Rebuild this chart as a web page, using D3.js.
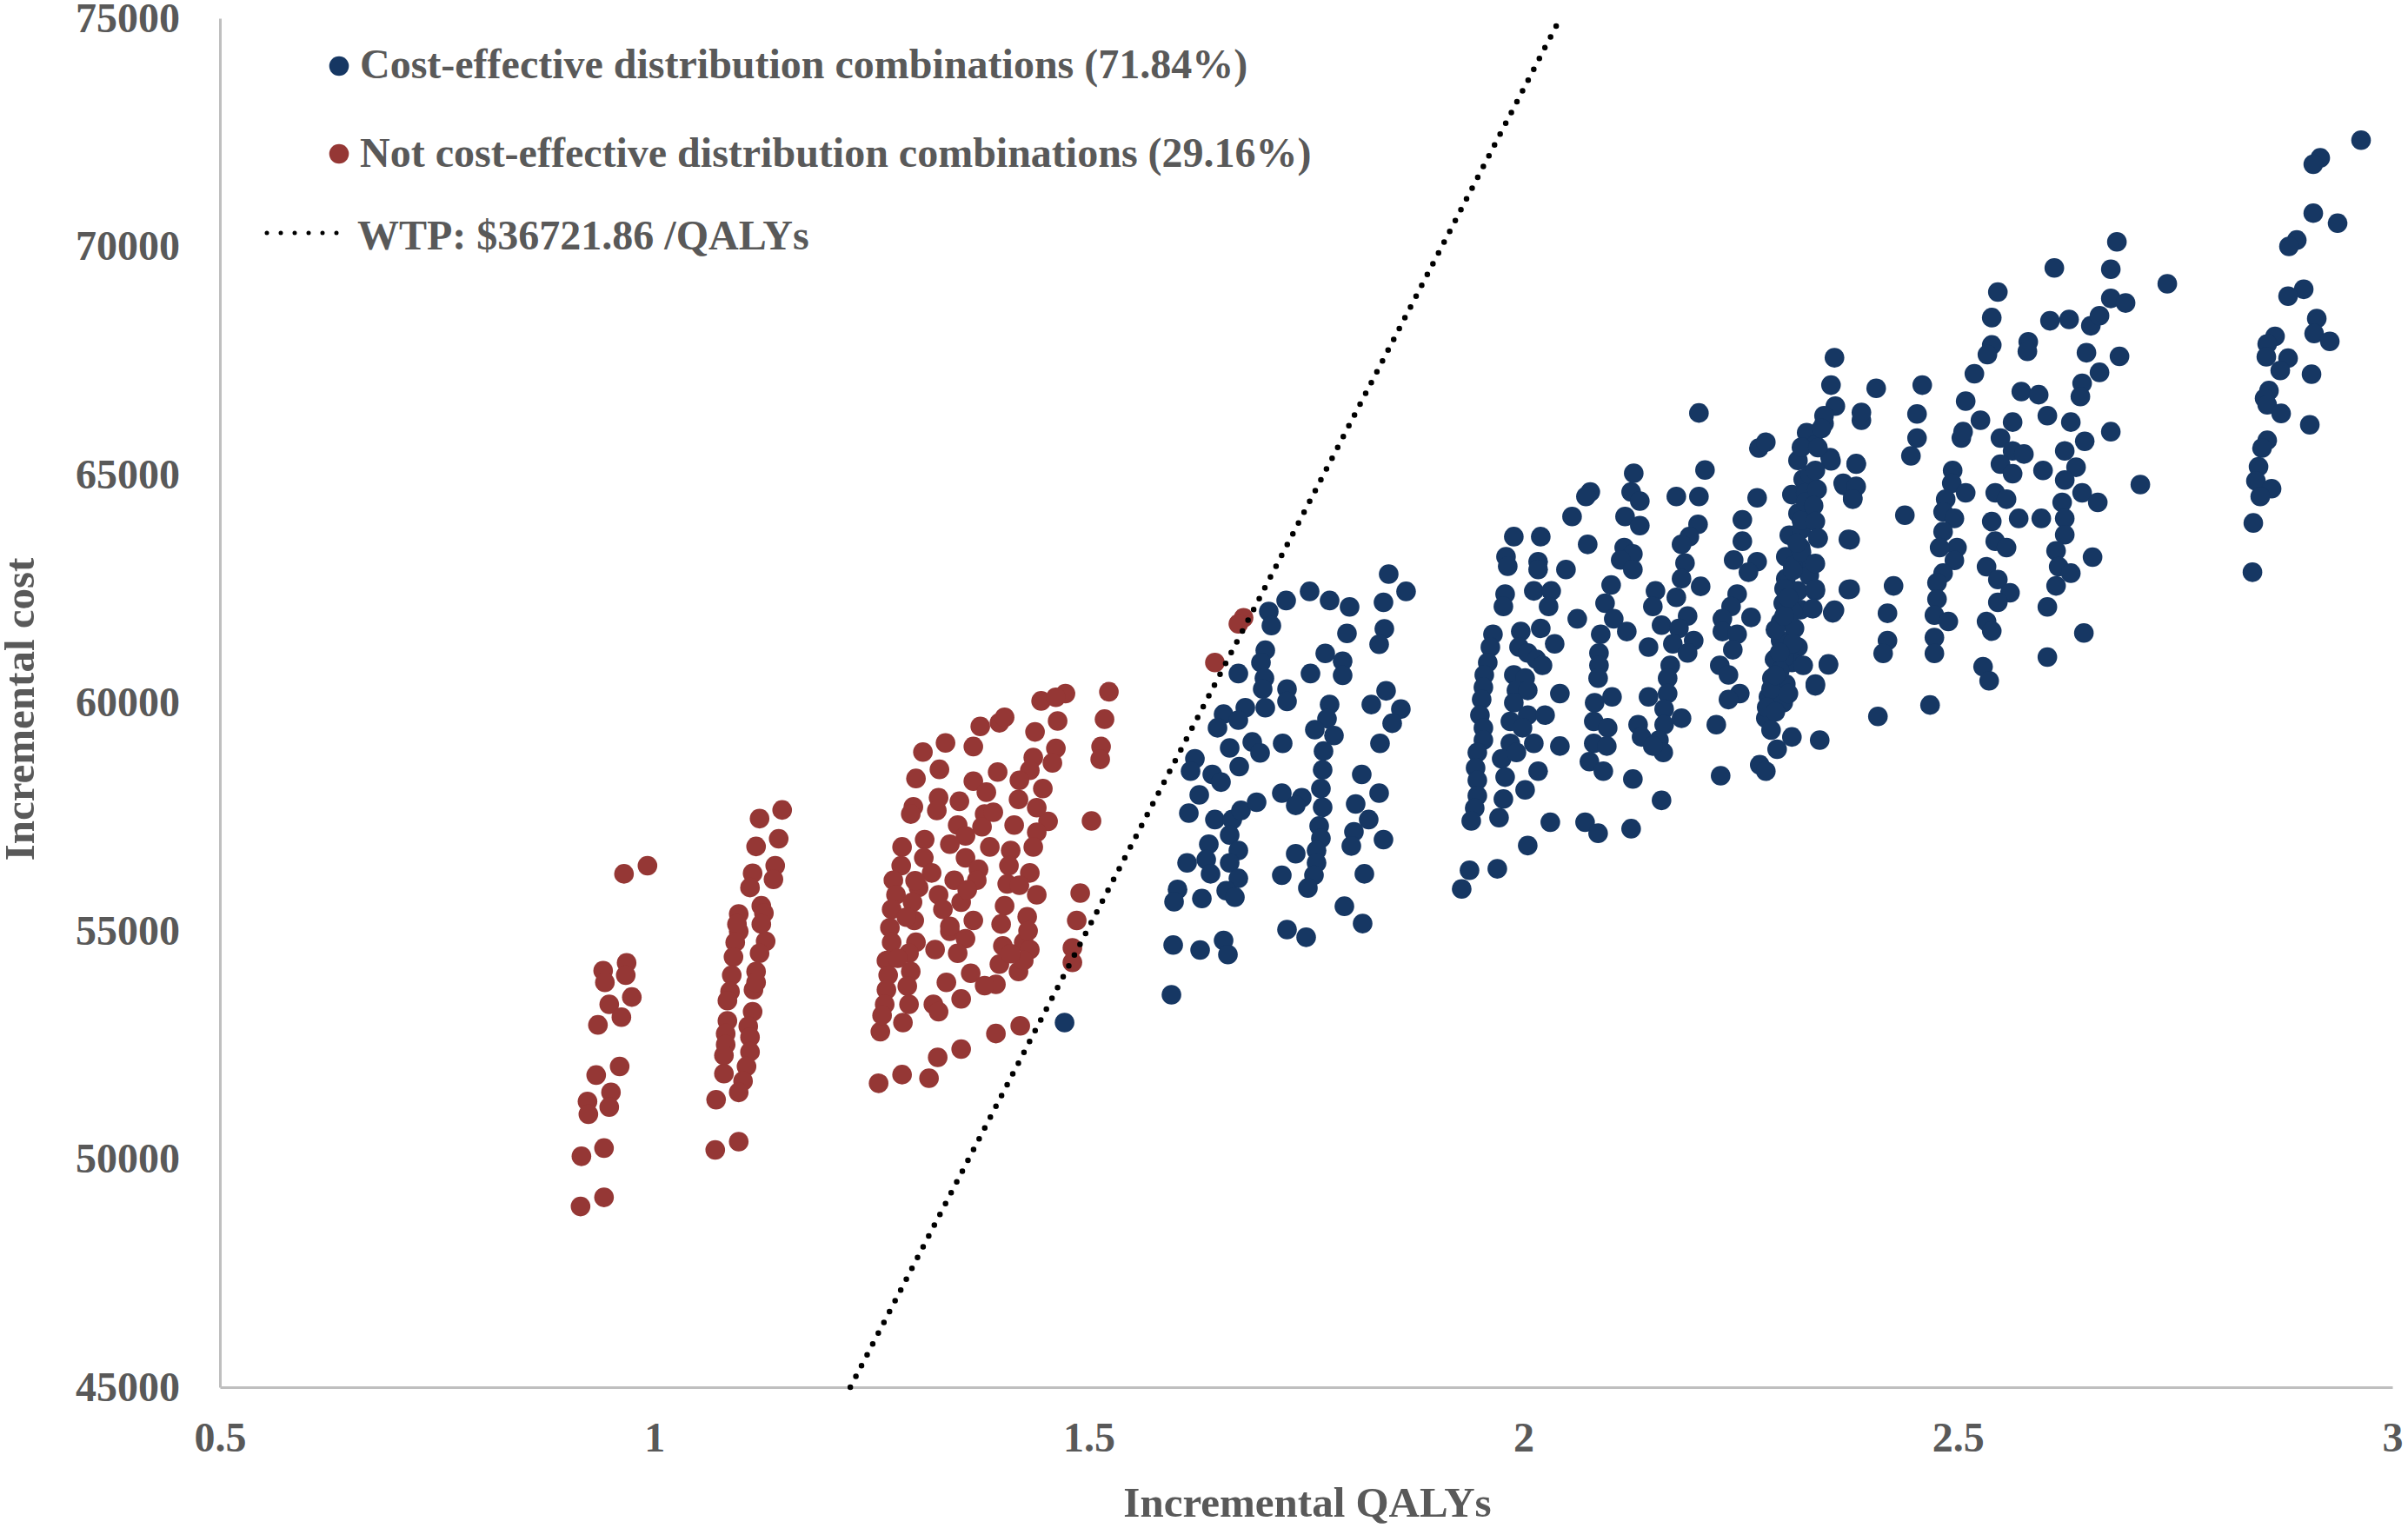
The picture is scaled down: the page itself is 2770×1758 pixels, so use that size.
<!DOCTYPE html>
<html>
<head>
<meta charset="utf-8">
<script src="https://cdn.jsdelivr.net/npm/d3@7"></script>
<style>
html, body { margin: 0; padding: 0; background: #fff; }
svg text { font-family: "Liberation Serif", "Times New Roman", serif; font-weight: bold; fill: #595959; }
</style>
</head>
<body>
<svg id="chart" width="2770" height="1758"></svg>
<script>
// axis ticks and labels
var xTicks = [0.5, 1, 1.5, 2, 2.5, 3];
var yTicks = [45000, 50000, 55000, 60000, 65000, 70000, 75000];
var xTitle = 'Incremental QALYs';
var yTitle = 'Incremental cost';

// willingness to pay threshold ($ per QALY)
var wtp = 36721.86;

var legendLabels = [
	'Cost-effective distribution combinations (71.84%)',
	'Not cost-effective distribution combinations (29.16%)',
	'WTP: $36721.86 /QALYs'
];

// [incremental QALYs, incremental cost]
var notCostEffective = [
	[0.965,56250],[0.992,56430],[0.941,54130],[0.968,54300],[0.943,53870],[0.967,54030],[0.974,53550],[0.948,53390],
	[0.962,53110],[0.935,52940],[0.960,52030],[0.933,51840],[0.950,51460],[0.923,51260],[0.948,51140],[0.924,50980],
	[0.942,50240],[0.916,50060],[0.942,49160],[0.915,48960],
	[1.147,57650],[1.121,57460],[1.143,57020],[1.117,56850],[1.139,56430],[1.113,56260],[1.137,56130],[1.110,55950],
	[1.123,55550],[1.097,55370],[1.097,54990],[1.126,55390],[1.128,54770],[1.095,55150],[1.093,54750],[1.123,55150],
	[1.121,54510],[1.091,54430],[1.117,54110],[1.089,54030],[1.114,53710],[1.087,53670],[1.084,53470],[1.117,53870],
	[1.113,53230],[1.084,53030],[1.108,52910],[1.082,52750],[1.082,52510],[1.110,52670],[1.110,52350],[1.080,52270],
	[1.106,52030],[1.080,51870],[1.102,51710],[1.071,51300],[1.097,51460],[1.097,50380],[1.070,50200],
	[1.309,58920],[1.335,59120],[1.301,58340],[1.328,58540],[1.298,57720],[1.327,57920],[1.295,57560],[1.325,57640],
	[1.285,56840],[1.311,57000],[1.284,56430],[1.310,56600],[1.275,56110],[1.319,56270],[1.278,55790],[1.304,55950],
	[1.273,55470],[1.297,55630],[1.271,55070],[1.299,55230],[1.273,54750],[1.301,54750],[1.267,54350],[1.293,54510],
	[1.269,54030],[1.295,54110],[1.267,53710],[1.291,53790],[1.265,53390],[1.293,53390],[1.260,52790],[1.286,52990],
	[1.262,53150],
	[1.258,51660],[1.285,51850],[1.316,51770],[1.326,52230],[1.353,52410],[1.393,52750],[1.421,52920],
	[1.367,59040],[1.375,59480],[1.397,59560],[1.403,59680],[1.395,58480],[1.367,58280],[1.382,58040],[1.351,57840],
	[1.380,57560],[1.349,57320],[1.377,57280],[1.358,57080],[1.386,56840],[1.358,56600],[1.373,56350],[1.345,56110],
	[1.371,56110],[1.327,55790],[1.353,55630],[1.332,55470],[1.367,55230],[1.340,54990],[1.358,54830],[1.323,54590],
	[1.349,54510],[1.364,54070],[1.336,53870],[1.353,53510],[1.321,53390],[1.327,53230],
	[1.445,60040],[1.473,60200],[1.462,60120],[1.438,59360],[1.464,59600],[1.436,58800],[1.462,59000],[1.432,58520],
	[1.458,58680],[1.447,58120],[1.419,57880],[1.453,57400],[1.414,57320],[1.440,57160],[1.410,56760],[1.436,56840],
	[1.408,56430],[1.432,56270],[1.406,56030],[1.440,55790],[1.403,55550],[1.429,55310],[1.399,55150],[1.425,54750],
	[1.401,54670],[1.432,54590],[1.397,54270],[1.419,54110],[1.393,53830],[1.425,54350],
	[1.300,56100],[1.290,55300],[1.280,54400],[1.340,56900],[1.360,55900],[1.340,55100],[1.390,57600],[1.420,58300],
	[1.440,57700],[1.420,56000],[1.430,55000],[1.410,54500],[1.380,53800],
	[1.523,60240],[1.518,59640],[1.514,59040],[1.513,58760],[1.503,57410],[1.490,55830],[1.486,55230],[1.481,54630],
	[1.481,54310],
	[1.678,61860],[1.672,61730],[1.645,60880]
];

var costEffective = [
	[1.472,52990],
	// around 1.6 - 1.87
	[1.707,62000],[1.710,61690],[1.727,62240],[1.703,61150],[1.698,60880],[1.702,60540],[1.700,60300],[1.672,60640],
	[1.703,59890],[1.680,59890],[1.655,59750],[1.648,59450],[1.672,59620],[1.688,59140],[1.662,59010],[1.697,58900],
	[1.673,58600],[1.622,58770],[1.617,58500],[1.642,58430],[1.652,58260],[1.627,57980],[1.615,57580],[1.645,57440],
	[1.665,57440],[1.675,57640],[1.693,57820],[1.638,56900],[1.662,57100],[1.672,56760],[1.635,56560],[1.662,56490],
	[1.640,56250],[1.672,56150],[1.658,55880],[1.668,55740],[1.613,56490],[1.602,55910],[1.598,55640],[1.630,55710],
	[1.597,54690],[1.628,54580],[1.655,54790],[1.660,54480],[1.595,53600],
	[1.754,62440],[1.777,62240],[1.800,62100],[1.797,61520],[1.772,61080],[1.792,60910],[1.792,60600],[1.755,60640],
	[1.728,60300],[1.728,60030],[1.723,59110],[1.777,59960],[1.774,59650],[1.760,59410],[1.782,59280],[1.770,58940],
	[1.769,58530],[1.767,58120],[1.722,58020],[1.745,57920],[1.738,57750],[1.769,57710],[1.765,57300],[1.767,57030],
	[1.762,56760],[1.738,56690],[1.762,56490],[1.759,56220],[1.752,55940],[1.722,56220],[1.728,55030],[1.750,54860],
	[1.794,55540],[1.815,55160],[1.817,56250],
	[1.845,62820],[1.865,62440],[1.839,62200],[1.840,61620],[1.834,61280],[1.842,60260],[1.825,59960],[1.859,59860],
	[1.849,59550],[1.835,59110],[1.814,58430],[1.834,58020],[1.807,57780],[1.822,57440],[1.805,57170],[1.802,56860],
	[1.839,57000],
	// around 1.93 - 2.39
	[1.989,63640],[1.980,63200],[1.982,62990],[2.020,63640],[2.017,63090],[2.017,62920],[2.049,62920],[2.056,64080],
	[2.077,64620],[2.072,64520],[2.074,63470],
	[1.965,61500],[1.962,61220],[1.959,60880],[1.955,60610],[1.954,60340],[1.952,60070],[1.950,59730],[1.954,59450],
	[1.954,59180],[1.947,58910],[1.945,58570],[1.947,58300],[1.947,57960],[1.944,57690],[1.940,57410],
	[1.979,62380],[1.977,62110],[2.012,62450],[2.032,62450],[2.029,62110],[2.020,61630],[2.036,61290],[1.997,61560],
	[1.995,61220],[2.005,61090],[2.015,60950],[2.022,60820],[1.989,60610],[2.002,60540],[1.992,60270],[2.005,60270],
	[1.989,60000],[2.005,59730],[2.025,59730],[1.985,59590],[1.999,59450],[1.985,59110],[2.012,59110],[1.975,58770],
	[1.992,58910],[2.017,58500],[1.979,58370],[2.002,58090],[1.977,57890],[1.972,57480],[2.042,60200],[2.042,59050],
	[2.031,57380],[2.071,57380],[2.086,57140],[2.124,57240],[2.005,56870],[1.938,56330],[1.970,56360],[1.929,55920],
	[2.159,57860],[2.126,58330],
	[2.127,65030],[2.124,64620],[2.134,64420],[2.117,64080],[2.134,63880],[2.116,63400],[2.126,63260],[2.112,63130],
	[2.126,62920],[2.101,62580],[2.094,62180],[2.104,61840],[2.119,61560],[2.089,61500],[2.087,61090],[2.087,60820],
	[2.086,60540],[2.102,60130],[2.082,60000],[2.081,59590],[2.097,59450],[2.081,59110],[2.096,59050],[2.076,58710],
	[2.092,58500],[2.062,61840],[2.144,61220],[2.144,60130],
	[2.176,64520],[2.202,64520],[2.209,65100],[2.201,63910],[2.191,63640],[2.182,63470],[2.186,63060],[2.182,62720],
	[2.204,62550],[2.152,62450],[2.176,62310],[2.149,62110],[2.189,61900],[2.159,61700],[2.179,61630],[2.172,61290],
	[2.196,61360],[2.189,61090],[2.169,60820],[2.166,60540],[2.166,60200],[2.162,59860],[2.182,59660],[2.162,59520],
	[2.132,59520],[2.136,59250],[2.156,59180],[2.161,58910],[2.149,59050],[2.202,66350],
	[2.271,65580],[2.279,65710],[2.269,64490],[2.252,64010],[2.252,63540],[2.242,63130],[2.269,63090],[2.259,62860],
	[2.246,62380],[2.239,62110],[2.262,61870],[2.229,61840],[2.229,61560],[2.246,61500],[2.241,61160],[2.226,60820],
	[2.236,60610],[2.249,60200],[2.236,60070],[2.222,59520],[2.227,58400],[2.272,58640],[2.279,58500],[2.292,58980],
	[2.309,59250],[2.341,59180],
	[2.326,65920],[2.346,66120],[2.336,65650],[2.353,65370],[2.316,65310],[2.322,64900],[2.336,64690],[2.309,64560],
	[2.329,64350],[2.316,64150],[2.339,63600],[2.306,63670],[2.319,63400],[2.302,63200],[2.322,63060],[2.329,62790],
	[2.302,62720],[2.316,62450],[2.336,62450],[2.299,62180],[2.319,62040],[2.296,61770],[2.312,61630],[2.296,61360],
	[2.316,61220],[2.289,60950],[2.309,60880],[2.322,60820],[2.286,60540],[2.302,60410],[2.282,60130],[2.299,60000],
	[2.279,59660],[2.336,60410],[2.351,60850],[2.356,61970],[2.374,62480],[2.383,65240],[2.369,64760],[2.379,64490],
	[2.376,63570],[2.389,66190],
	[2.300,62500],[2.310,63000],[2.320,63800],[2.325,64600],[2.290,61600],[2.300,61000],[2.285,60300],[2.310,62000],
	[2.320,63300],[2.330,64100],[2.310,61300],[2.295,60700],[2.280,59900],[2.290,59800],[2.305,60200],
	[2.285,59400],[2.290,60600],[2.295,61100],[2.300,61900],[2.305,62300],[2.310,62900],[2.315,63500],[2.320,64000],
	[2.325,64400],[2.330,65000],[2.320,65600],
	// around 2.33 - 2.75
	[2.358,67560],[2.354,66960],[2.359,66500],[2.346,66290],[2.343,66010],[2.339,65590],[2.354,65300],[2.336,65090],
	[2.338,64670],[2.334,64320],[2.336,63970],[2.339,63610],[2.336,63050],[2.336,62490],[2.333,62060],[2.351,60830],
	[2.336,60370],
	[2.406,66890],[2.389,66360],[2.383,65230],[2.368,64810],[2.383,64740],[2.379,64460],[2.374,63580],[2.376,62490],
	[2.358,62030],[2.439,64110],[2.459,66960],[2.453,66330],[2.453,65800],[2.446,65410],[2.426,62560],[2.419,61960],
	[2.419,61360],[2.414,61080],[2.468,59950],[2.408,59700],
	[2.494,65090],[2.493,64810],[2.509,64600],[2.486,64460],[2.483,64180],[2.496,64040],[2.483,63750],[2.499,63400],
	[2.479,63400],[2.496,63120],[2.483,62840],[2.476,62630],[2.476,62270],[2.473,61920],[2.489,61780],[2.473,61430],
	[2.473,61080],[2.509,66610],[2.504,65800],[2.506,65940],[2.526,66190],
	[2.546,69000],[2.539,68440],[2.539,67840],[2.534,67630],[2.519,67210],[2.573,66820],[2.593,66750],[2.563,66150],
	[2.549,65800],[2.563,65520],[2.576,65450],[2.549,65230],[2.563,65020],[2.543,64600],[2.556,64460],[2.570,64040],
	[2.539,63970],[2.543,63540],[2.556,63400],[2.533,62980],[2.546,62700],[2.560,62410],[2.546,62200],[2.533,61780],
	[2.539,61570],[2.529,60790],[2.536,60480],[2.581,67910],[2.580,67700],[2.596,64040],[2.598,65090],
	[2.611,69530],[2.606,68370],[2.628,68400],[2.653,68260],[2.663,68480],[2.676,68860],[2.693,68760],[2.683,70100],
	[2.676,69500],[2.648,67670],[2.686,67590],[2.663,67240],[2.643,67000],[2.641,66710],[2.603,66290],[2.630,66150],
	[2.646,65730],[2.623,65520],[2.636,65160],[2.623,64880],[2.643,64600],[2.661,64390],[2.620,64390],[2.623,64040],
	[2.623,63680],[2.613,63330],[2.616,62980],[2.630,62840],[2.613,62560],[2.603,62100],[2.655,63190],[2.645,61530],
	[2.603,61000],[2.676,65940],[2.710,64780],[2.741,69180],
	// around 2.84 - 2.96
	[2.964,72330],[2.917,71940],[2.909,71800],[2.909,70730],[2.937,70510],[2.890,70140],[2.881,70000],[2.898,69060],
	[2.880,68910],[2.913,68420],[2.910,68090],[2.928,67920],[2.865,68030],[2.856,67860],[2.855,67580],[2.880,67550],
	[2.871,67280],[2.907,67200],[2.858,66840],[2.853,66670],[2.856,66530],[2.872,66340],[2.905,66090],[2.856,65750],
	[2.850,65580],[2.846,65170],[2.843,64860],[2.861,64690],[2.848,64520],[2.840,63940],[2.839,62860]
];

var blue = '#163763', red = '#953735', axisGrey = '#bfbfbf', r = 11.3;

var svg = d3.select('#chart'),
	x = d3.scaleLinear().domain([0.5, 3]).range([253, 2752]),
	y = d3.scaleLinear().domain([45000, 75000]).range([1596, 21]);

// axes
var gx = svg.append('g').attr('transform', 'translate(0,1596)')
	.call(d3.axisBottom(x).tickValues(xTicks).tickSize(0).tickPadding(40).tickFormat(function(d){ return d; }));
var gy = svg.append('g').attr('transform', 'translate(253,0)')
	.call(d3.axisLeft(y).tickValues(yTicks).tickSize(0).tickPadding(46).tickFormat(d3.format('d')));
[gx, gy].forEach(function(g){
	g.attr('font-size', 48).attr('font-family', null);
	g.select('.domain').attr('stroke', axisGrey).attr('stroke-width', 3);
});

svg.append('text').attr('x', 1504).attr('y', 1745).attr('text-anchor', 'middle')
	.attr('font-size', 49).text(xTitle);
svg.append('text').attr('transform', 'translate(39,816)rotate(-90)').attr('text-anchor', 'middle')
	.attr('font-size', 49).text(yTitle);

// points
svg.append('g').selectAll('circle').data(notCostEffective).enter().append('circle')
	.attr('cx', function(d){ return x(d[0]); })
	.attr('cy', function(d){ return y(d[1]); })
	.attr('r', r).attr('fill', red);
svg.append('g').selectAll('circle').data(costEffective).enter().append('circle')
	.attr('cx', function(d){ return x(d[0]); })
	.attr('cy', function(d){ return y(d[1]); })
	.attr('r', r).attr('fill', blue);

// WTP line: cost = wtp * QALYs, clipped to the y range
var wtpLine = y.domain().map(function(c){ return [c / wtp, c]; });
svg.append('path').datum(wtpLine)
	.attr('d', d3.line().x(function(d){ return x(d[0]); }).y(function(d){ return y(d[1]); }))
	.attr('fill', 'none').attr('stroke', '#000').attr('stroke-width', 6.5)
	.attr('stroke-linecap', 'round').attr('stroke-dasharray', '0 14');

// legend
var legend = svg.append('g').attr('font-size', 48);
legend.append('circle').attr('cx', 390).attr('cy', 76).attr('r', r).attr('fill', blue);
legend.append('text').attr('x', 414).attr('y', 90).text(legendLabels[0]);
legend.append('circle').attr('cx', 390).attr('cy', 177).attr('r', r).attr('fill', red);
legend.append('text').attr('x', 414).attr('y', 192).text(legendLabels[1]);
legend.append('line').attr('x1', 307).attr('x2', 389).attr('y1', 268).attr('y2', 268)
	.attr('stroke', '#000').attr('stroke-width', 5).attr('stroke-linecap', 'round').attr('stroke-dasharray', '0 16');
legend.append('text').attr('x', 411).attr('y', 287).text(legendLabels[2]);
</script>
</body>
</html>
